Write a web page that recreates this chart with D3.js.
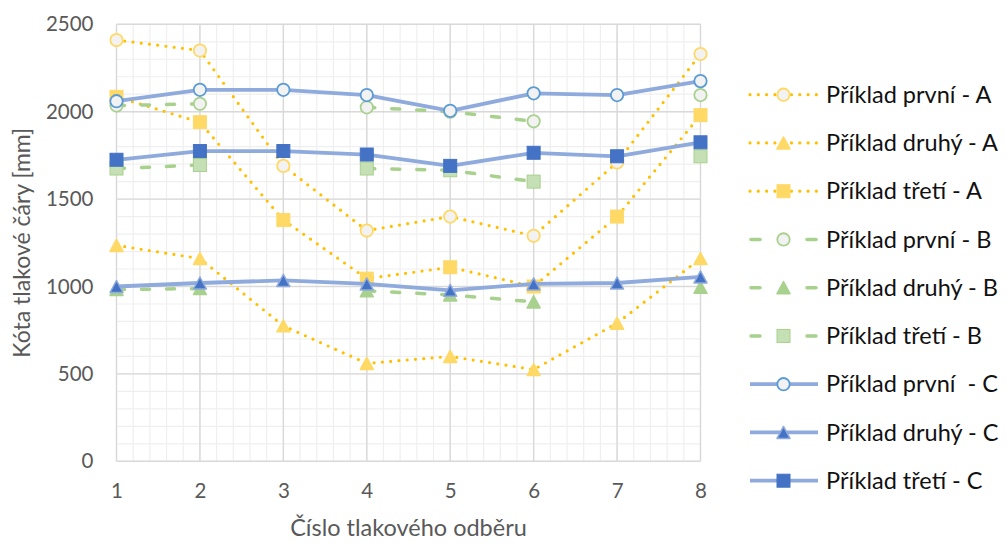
<!DOCTYPE html>
<html>
<head>
<meta charset="utf-8">
<script src="https://cdn.jsdelivr.net/npm/d3@7"></script>
<style>
  html, body { margin: 0; padding: 0; background: #fff; }
  svg { display: block; font-family: Lato, "Open Sans", "Noto Sans", sans-serif; }
</style>
</head>
<body>
<svg id="chart" width="1006" height="543"></svg>
<script>
// Pressure tap number (x) and pressure line elevation in mm (y)
const categories = [1, 2, 3, 4, 5, 6, 7, 8];
const yTicks = [0, 500, 1000, 1500, 2000, 2500];

const prvniA = [2410, 2350, 1690, 1320, 1400, 1290, 1710, 2330];
const druhyA = [1235, 1160, 775, 560, 600, 525, 790, 1160];
const tretiA = [2085, 1940, 1380, 1045, 1110, 1000, 1400, 1980];

const prvniB = [2035, 2045, null, 2025, 2000, 1945, null, 2095];
const druhyB = [983, 988, null, 975, 952, 912, null, 995];
const tretiB = [1675, 1695, null, 1675, 1665, 1600, null, 1745];

const prvniC = [2060, 2125, 2125, 2095, 2005, 2105, 2095, 2175];
const druhyC = [1000, 1020, 1035, 1015, 978, 1015, 1020, 1055];
const tretiC = [1725, 1775, 1775, 1755, 1690, 1765, 1745, 1825];

const seriesNames = [
  "Příklad první - A", "Příklad druhý - A", "Příklad třetí - A",
  "Příklad první - B", "Příklad druhý - B", "Příklad třetí - B",
  "Příklad první  - C", "Příklad druhý - C", "Příklad třetí - C"
];

// line styles per group
const styleA = { line: "#FFC000", width: 3.2, dash: "0,8.3", cap: "round" };
const styleB = { line: "#A9D18E", width: 3.5, dash: "8,17", cap: "round" };
const styleC = { line: "#8FAADC", width: 3.8, dash: null, cap: "butt" };

const series = [
  { name: seriesNames[0], values: prvniA, st: styleA, marker: "circle",   fill: "#F2F2F2", stroke: "#FFD966" },
  { name: seriesNames[1], values: druhyA, st: styleA, marker: "triangle", fill: "#FFD966", stroke: "#FFD966" },
  { name: seriesNames[2], values: tretiA, st: styleA, marker: "square",   fill: "#FFD966", stroke: "#FFD966" },
  { name: seriesNames[3], values: prvniB, st: styleB, marker: "circle",   fill: "#F2F2F2", stroke: "#A9D18E" },
  { name: seriesNames[4], values: druhyB, st: styleB, marker: "triangle", fill: "#A9D18E", stroke: "#A9D18E" },
  { name: seriesNames[5], values: tretiB, st: styleB, marker: "square",   fill: "#C5E0B4", stroke: "#A9D18E" },
  { name: seriesNames[6], values: prvniC, st: styleC, marker: "circle",   fill: "#F2F2F2", stroke: "#5B9BD5" },
  { name: seriesNames[7], values: druhyC, st: styleC, marker: "triangle", fill: "#4472C4", stroke: "#8FAADC" },
  { name: seriesNames[8], values: tretiC, st: styleC, marker: "square",   fill: "#4472C4", stroke: "#4472C4" }
];

const svg = d3.select("#chart");
const plot = { left: 116.5, right: 700.5, top: 24.3, bottom: 461.3 };

const x = d3.scaleLinear().domain([1, 8]).range([plot.left, plot.right]);
const y = d3.scaleLinear().domain([0, 2500]).range([plot.bottom, plot.top]);

// minor grid
const g = svg.append("g");
const minorX = d3.range(1, 8.001, 0.2);
const minorY = d3.range(0, 2501, 100);
g.selectAll(".mx").data(minorX).join("line")
  .attr("x1", d => x(d)).attr("x2", d => x(d))
  .attr("y1", plot.top).attr("y2", plot.bottom)
  .attr("stroke", "#EFEFEF").attr("stroke-width", 1.2);
g.selectAll(".my").data(minorY).join("line")
  .attr("x1", plot.left).attr("x2", plot.right)
  .attr("y1", d => y(d)).attr("y2", d => y(d))
  .attr("stroke", "#EFEFEF").attr("stroke-width", 1.2);

// major grid
g.selectAll(".Mx").data(categories).join("line")
  .attr("x1", d => x(d)).attr("x2", d => x(d))
  .attr("y1", plot.top).attr("y2", plot.bottom)
  .attr("stroke", "#D9D9D9").attr("stroke-width", 1.4);
g.selectAll(".My").data(yTicks).join("line")
  .attr("x1", plot.left).attr("x2", plot.right)
  .attr("y1", d => y(d)).attr("y2", d => y(d))
  .attr("stroke", "#D9D9D9").attr("stroke-width", 1.4);

// axes (labels only; lines come from the grid)
const yAxis = svg.append("g")
  .attr("transform", `translate(${plot.left},0)`)
  .call(d3.axisLeft(y).tickValues(yTicks).tickSize(0).tickPadding(23).tickFormat(d3.format("d")));
yAxis.select(".domain").remove();
yAxis.selectAll("text").attr("font-size", 20.5).attr("fill", "#595959")
  .attr("font-family", "Lato, sans-serif");

const xAxis = svg.append("g")
  .attr("transform", `translate(0,${plot.bottom})`)
  .call(d3.axisBottom(x).tickValues(categories).tickSize(0).tickPadding(22).tickFormat(d3.format("d")));
xAxis.select(".domain").remove();
xAxis.selectAll("text").attr("font-size", 20.5).attr("fill", "#595959")
  .attr("font-family", "Lato, sans-serif");

// axis titles
svg.append("text")
  .attr("x", (plot.left + plot.right) / 2).attr("y", 536)
  .attr("text-anchor", "middle").attr("font-size", 23.5).attr("fill", "#595959")
  .text("Číslo tlakového odběru");
svg.append("text")
  .attr("transform", `translate(30,${(plot.top + plot.bottom) / 2}) rotate(-90)`)
  .attr("text-anchor", "middle").attr("font-size", 23).attr("fill", "#595959")
  .text("Kóta tlakové čáry [mm]");

// marker drawing
function drawMarker(sel, s, cx, cy) {
  if (s.marker === "circle") {
    sel.append("circle").attr("cx", cx).attr("cy", cy).attr("r", 6.2)
      .attr("fill", s.fill).attr("stroke", s.stroke).attr("stroke-width", 1.8);
  } else if (s.marker === "square") {
    sel.append("rect").attr("x", cx - 6.5).attr("y", cy - 6.5)
      .attr("width", 13).attr("height", 13)
      .attr("fill", s.fill).attr("stroke", s.stroke).attr("stroke-width", 1);
  } else {
    const h = 12, w = 13;
    sel.append("path")
      .attr("d", `M${cx},${cy - h / 2}L${cx + w / 2},${cy + h / 2}L${cx - w / 2},${cy + h / 2}Z`)
      .attr("fill", s.fill).attr("stroke", s.stroke).attr("stroke-width", 1.5)
      .attr("stroke-linejoin", "round");
  }
}

const line = d3.line()
  .defined(d => d.v != null)
  .x(d => x(d.c)).y(d => y(d.v));

const seriesG = svg.append("g");
series.forEach(s => {
  const pts = categories.map((c, i) => ({ c, v: s.values[i] }));
  const sg = seriesG.append("g");
  sg.append("path").datum(pts).attr("d", line)
    .attr("fill", "none").attr("stroke", s.st.line)
    .attr("stroke-width", s.st.width)
    .attr("stroke-dasharray", s.st.dash)
    .attr("stroke-linecap", s.st.cap)
    .attr("stroke-linejoin", "round");
  pts.filter(p => p.v != null).forEach(p => drawMarker(sg, s, x(p.c), y(p.v)));
});

// legend
const legend = svg.append("g");
const legTop = 94.7, legStep = 48.25;
series.forEach((s, i) => {
  const ly = legTop + i * legStep;
  const lg = legend.append("g");
  if (s.st === styleB) {
    [[751, 760], [807, 816]].forEach(([a, b]) => {
      lg.append("line").attr("x1", a).attr("x2", b).attr("y1", ly).attr("y2", ly)
        .attr("stroke", s.st.line).attr("stroke-width", s.st.width).attr("stroke-linecap", "round");
    });
  } else {
    lg.append("line").attr("x1", 750).attr("x2", 818).attr("y1", ly).attr("y2", ly)
      .attr("stroke", s.st.line).attr("stroke-width", s.st.width)
      .attr("stroke-dasharray", s.st.dash)
      .attr("stroke-linecap", s.st.cap);
  }
  drawMarker(lg, s, 783.5, ly);
  lg.append("text").attr("x", 826).attr("y", ly).attr("dy", "0.35em")
    .attr("font-size", 23.5).attr("fill", "#111")
    .style("white-space", "pre")
    .text(s.name);
});
</script>
</body>
</html>
